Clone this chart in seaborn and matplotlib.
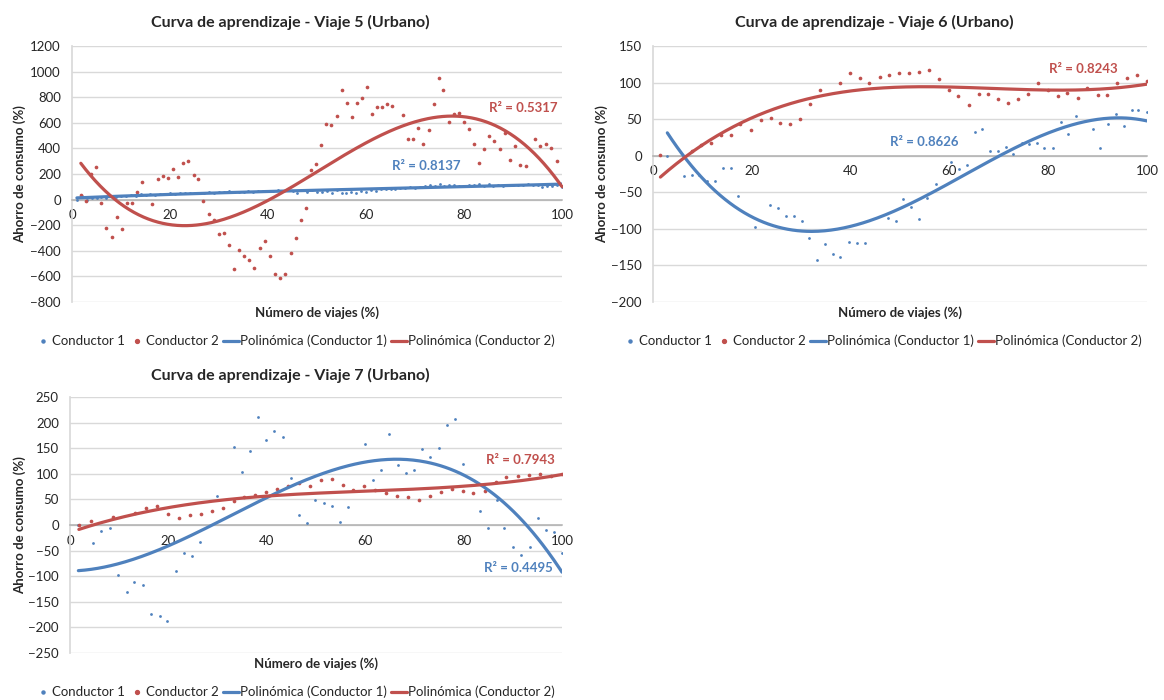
import numpy as np
import matplotlib
matplotlib.use("Agg")
import matplotlib.pyplot as plt
import seaborn as sns
from matplotlib.lines import Line2D

# ---- data ----
# Viaje 5
v5_x1 = list(range(1, 101))
v5_y1 = [0, 30, -5, 10, 15, 20, 15, 25, 20, 30,
         28, 35, 30, 40, 35, 40, 38, 45, 40, 48,
         45, 50, 48, 55, 50, 55, 52, 60, 55, 62,
         58, 65, 60, 62, 58, 65, 62, 68, 64, 70,
         66, 72, 68, 75, 70, 55, 72, 60, 76, 62,
         58, 70, 55, 75, 52, 55, 60, 54, 65, 62,
         78, 70, 82, 80, 85, 84, 88, 90, 95, 92,
         100, 105, 112, 110, 118, 108, 115, 112, 110, 108,
         112, 115, 118, 110, 120, 108, 112, 110, 115, 112,
         114, 115, 118, 112, 116, 100, 105, 110, 115, 100]
v5_x2 = [1.8, 2.9, 3.9, 4.9, 6.0, 7.0, 8.1, 9.1, 10.2, 11.2,
         12.2, 13.2, 14.3, 16.3, 17.5, 18.5, 19.6, 20.6, 21.6, 22.7,
         23.7, 24.8, 25.8, 26.8, 27.9, 28.9, 29.9, 31.0, 32.0, 33.0,
         34.1, 35.1, 36.1, 37.2, 38.3, 39.4, 40.4, 41.4, 42.5, 43.5,
         44.7, 45.7, 46.7, 47.7, 48.7, 49.7, 50.8, 51.9, 52.9, 54.0,
         55.1, 56.1, 57.1, 58.1, 59.2, 60.2, 61.2, 62.3, 63.3, 64.3,
         65.4, 67.5, 68.6, 69.6, 70.7, 71.7, 72.8, 73.8, 74.8, 75.8,
         76.9, 77.9, 78.9, 80.0, 81.1, 82.1, 83.1, 84.1, 85.2, 86.2,
         87.3, 88.4, 89.4, 90.5, 91.5, 92.6, 94.5, 95.6, 96.7, 97.8,
         98.9, 99.9]
v5_y2 = [34, -8, 200, 255, -26, -222, -290, -133, -227, -26,
         -29, 60, 136, -34, 159, 185, 172, 237, 177, 289,
         300, 190, 162, -13, -112, -156, -269, -263, -357, -545,
         -391, -438, -469, -537, -378, -326, -438, -579, -613, -579,
         -417, -297, -162, -68, 235, 282, 430, 592, 581, 657,
         855, 754, 647, 754, 790, 876, 670, 722, 725, 748,
         735, 660, 472, 475, 558, 435, 540, 748, 952, 855,
         610, 665, 678, 608, 553, 438, 289, 399, 493, 459,
         394, 521, 313, 415, 271, 261, 470, 415, 433, 402,
         305, 104]

# Viaje 6
v6_x1 = [2.9, 6.3, 7.8, 9.4, 11.0, 12.5, 14.2, 15.8, 17.3, 20.6,
         23.7, 25.3, 26.9, 28.5, 30.1, 31.5, 33.2, 34.8, 36.4, 37.9,
         39.6, 41.2, 42.9, 47.5, 49.1, 50.6, 52.3, 53.9, 55.5, 57.2,
         60.3, 62.0, 63.5, 65.1, 66.6, 68.2, 69.8, 71.4, 72.9, 74.6,
         76.1, 77.7, 79.2, 80.9, 82.5, 84.1, 85.7, 89.0, 90.5, 92.2,
         93.7, 95.3, 96.9, 98.2, 100.0]
v6_y1 = [-1, -28, -27, -27, -34, -34, -17, -17, -55, -98,
         -68, -72, -82, -82, -89, -113, -143, -121, -135, -138,
         -118, -119, -120, -85, -89, -59, -70, -87, -58, -39,
         -9, -18, -13, 33, 37, 7, 7, 12, 3, 17,
         16, 17, 10, 11, 46, 30, 54, 37, 11, 44,
         57, 41, 62, 62, 60]
v6_x2 = [1.5, 7.8, 9.7, 11.7, 13.7, 15.7, 17.7, 19.8, 21.8, 23.8,
         25.8, 27.8, 29.8, 31.8, 33.9, 37.9, 39.8, 41.9, 43.8, 45.9,
         47.8, 49.8, 51.9, 53.8, 55.8, 57.8, 59.9, 61.8, 63.9, 66.0,
         67.8, 69.9, 71.8, 73.9, 75.9, 77.9, 79.9, 81.9, 83.9, 86.0,
         87.9, 90.0, 91.9, 94.0, 95.9, 98.0, 100.0]
v6_y2 = [1, 7, 14, 17, 29, 29, 43, 35, 49, 52,
         45, 43, 50, 71, 90, 100, 113, 106, 99, 108,
         111, 113, 113, 114, 117, 105, 90, 82, 70, 84,
         85, 78, 72, 78, 85, 100, 90, 82, 86, 79,
         93, 83, 83, 99, 106, 110, 102]

# Viaje 7 (first and last blue points sit under other marks)
v7_x1 = [1.7, 4.7, 6.4, 8.1, 9.8, 11.5, 13.1, 14.9, 16.5, 18.2, 19.8,
         21.5, 23.2, 24.8, 26.5, 29.9, 33.3, 34.9, 36.6, 38.2, 39.9,
         41.5, 43.2, 44.9, 46.5, 48.2, 49.8, 51.6, 53.2, 54.9, 56.5,
         59.9, 61.6, 63.2, 64.9, 66.6, 68.2, 69.9, 71.5, 73.2, 74.9,
         76.6, 78.2, 79.9, 83.3, 85.0, 86.7, 88.3, 90.0, 91.7, 93.4,
         95.1, 96.8, 98.4, 100.0]
v7_y1 = [0, -36, -11, -6, -98, -131, -112, -117, -174, -178, -187,
         -90, -55, -60, -33, 57, 152, 103, 145, 210, 166,
         184, 171, 91, 20, 4, 49, 42, 38, 6, 36,
         159, 87, 108, 177, 117, 102, 108, 148, 132, 150,
         195, 207, 120, 28, -6, 49, -6, -42, -58, -42,
         14, -9, -14, -55]
v7_x2 = [1.8, 4.3, 8.7, 13.2, 15.5, 17.7, 19.9, 22.1, 24.3, 26.6,
         28.8, 31.0, 33.3, 35.4, 37.7, 39.9, 42.1, 44.4, 46.5, 48.7,
         51.0, 53.2, 55.4, 57.6, 59.8, 62.0, 64.3, 66.5, 68.7, 70.9,
         73.2, 75.4, 77.6, 79.8, 82.0, 84.3, 86.5, 88.7, 91.0, 93.2,
         95.5, 97.7, 100.0]
v7_y2 = [0, 8, 16, 24, 33, 37, 21, 14, 19, 21,
         27, 33, 46, 54, 59, 64, 70, 76, 83, 76,
         88, 89, 78, 68, 76, 68, 63, 56, 54, 48,
         57, 65, 70, 66, 62, 66, 84, 93, 96, 98,
         99, 96, 100]

BLUE = "#4f81bd"
RED = "#c0504d"
GRID = "#d9d9d9"
TXT = "#262626"

W, H = 1164, 700

sns.set_theme(style="white")
plt.rcParams['font.family'] = ['Lato', 'DejaVu Sans']


def px_axes(fig, left, right, top, bottom):
    return fig.add_axes([left / W, 1 - bottom / H, (right - left) / W, (bottom - top) / H])


def trend(x, y, deg=3):
    # "Polinómica" trendline, as Excel draws it over the data range
    coef = np.polyfit(x, y, deg)
    xs = np.linspace(min(x), max(x), 300)
    return xs, np.polyval(coef, xs)


def draw_panel(fig, box, x1, y1, x2, y2, ylim, ystep, title, title_pos,
               xlab_y, ylab_x, leg_pos, r2_red, r2_blue):
    ax = px_axes(fig, *box)
    sns.scatterplot(x=x1, y=y1, ax=ax, color=BLUE, s=4, linewidth=0, zorder=3)
    sns.scatterplot(x=x2, y=y2, ax=ax, color=RED, s=7, linewidth=0, zorder=3)
    xs, ys = trend(x1, y1)
    sns.lineplot(x=xs, y=ys, ax=ax, color=BLUE, lw=2.3, sort=False, estimator=None, zorder=4)
    xs, ys = trend(x2, y2)
    sns.lineplot(x=xs, y=ys, ax=ax, color=RED, lw=2.3, sort=False, estimator=None, zorder=4)

    ax.set_xlim(0, 100)
    ax.set_ylim(*ylim)
    ax.set_xticks(range(0, 101, 20))
    ax.set_yticks(np.arange(ylim[0], ylim[1] + 1, ystep))
    ax.yaxis.grid(True, color=GRID, lw=1)
    ax.xaxis.grid(False)
    ax.set_axisbelow(True)
    for s in ("top", "right"):
        ax.spines[s].set_visible(False)
    ax.spines["left"].set_color(GRID)
    ax.spines["bottom"].set_position(("data", 0))
    ax.spines["bottom"].set_color("#b0b0b0")
    ax.spines["bottom"].set_linewidth(1.1)
    ax.tick_params(axis="x", length=4, color="#b0b0b0", labelsize=9.5, labelcolor=TXT, pad=3)
    ax.tick_params(axis="y", length=5, color=GRID, labelsize=9.5, labelcolor=TXT, pad=3)
    ax.set_xlabel("")
    ax.set_ylabel("")

    fig.text(title_pos[0] / W, 1 - title_pos[1] / H, title, ha="center", va="center",
             fontsize=11.5, fontweight="bold", color=TXT)
    cx = (box[0] + box[1]) / 2
    fig.text(cx / W, 1 - xlab_y / H, "Número de viajes (%)", ha="center", va="center",
             fontsize=9.5, fontweight="bold", color=TXT)
    cy = (box[2] + box[3]) / 2
    fig.text(ylab_x / W, 1 - cy / H, "Ahorro de consumo (%)", ha="center", va="center",
             rotation=90, fontsize=9.5, fontweight="bold", color=TXT)

    ax.text(r2_red[1], r2_red[2], r2_red[0], color=RED, fontsize=9.5, fontweight="bold",
            ha="center", va="center", zorder=5)
    ax.text(r2_blue[1], r2_blue[2], r2_blue[0], color=BLUE, fontsize=9.5, fontweight="bold",
            ha="center", va="center", zorder=5)

    handles = [
        Line2D([], [], ls="", marker="o", markersize=2.2, color=BLUE, label="Conductor 1"),
        Line2D([], [], ls="", marker="o", markersize=2.8, color=RED, label="Conductor 2"),
        Line2D([], [], color=BLUE, lw=2.3, label="Polinómica (Conductor 1)"),
        Line2D([], [], color=RED, lw=2.3, label="Polinómica (Conductor 2)"),
    ]
    leg = fig.legend(handles=handles, loc="center", ncol=4, frameon=False,
                     bbox_to_anchor=(leg_pos[0] / W, 1 - leg_pos[1] / H),
                     fontsize=9.5, handlelength=1.2, handletextpad=0.1, columnspacing=0.3,
                     borderaxespad=0)
    for t in leg.get_texts():
        t.set_color(TXT)
    return ax


fig = plt.figure(figsize=(W / 100, H / 100), dpi=100)

draw_panel(fig, (72, 562, 46, 302), v5_x1, v5_y1, v5_x2, v5_y2, (-800, 1200), 200,
           "Curva de aprendizaje - Viaje 5 (Urbano)", (290, 22), 313, 20, (295, 341),
           ("R² = 0.5317", 92.2, 716), ("R² = 0.8137", 72.4, 263))

draw_panel(fig, (653, 1147, 46, 302), v6_x1, v6_y1, v6_x2, v6_y2, (-200, 150), 50,
           "Curva de aprendizaje - Viaje 6 (Urbano)", (874, 22), 313, 602, (882, 341),
           ("R² = 0.8243", 87.2, 119), ("R² = 0.8626", 55.0, 19))

draw_panel(fig, (70, 562, 397, 653), v7_x1, v7_y1, v7_x2, v7_y2, (-250, 250), 50,
           "Curva de aprendizaje - Viaje 7 (Urbano)", (290, 375), 664, 20, (295, 692),
           ("R² = 0.7943", 91.6, 126), ("R² = 0.4495", 91.2, -84))

fig.savefig("out.png", dpi=100, facecolor="white")
